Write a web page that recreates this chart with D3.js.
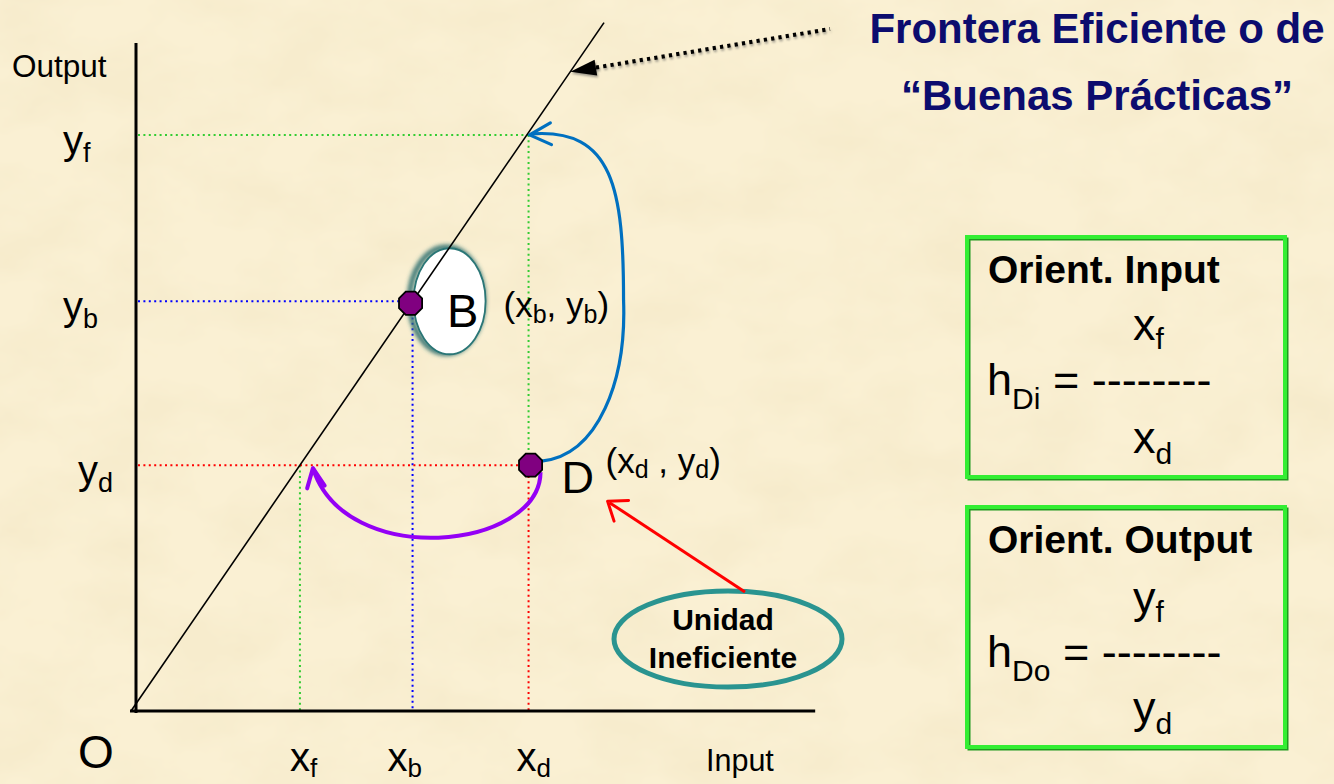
<!DOCTYPE html>
<html><head><meta charset="utf-8">
<script src="https://cdn.jsdelivr.net/npm/d3@7"></script>
<style>html,body{margin:0;padding:0;background:#f9f0d4;} svg{display:block;}</style>
</head><body><svg id="c" width="1334" height="784"></svg>
<script>
// ---------- data ----------
const frontierEnds = [0, 8.4];            // efficient frontier: output = input
const unitNames    = ["B", "D"];
const unitInput    = [5.0, 7.06];
const unitOutput   = [5.0, 3.0];
const xTickVals    = [3.0, 5.0, 7.06];    // x_f, x_b, x_d
const xTickSubs    = ["f", "b", "d"];
const yTickVals    = [7.03, 5.0, 3.0];    // y_f, y_b, y_d
const yTickSubs    = ["f", "b", "d"];
const axisMax      = [12.15, 8.15];
const titleLines   = ["Frontera Eficiente o de", "\u201CBuenas Pr\u00E1cticas\u201D"];
const boxTitles    = ["Orient. Input", "Orient. Output"];
const boxNum       = [["x","f"], ["y","f"]];
const boxLhs       = [["h","Di"], ["h","Do"]];
const boxDen       = [["x","d"], ["y","d"]];
const noteLines    = ["Unidad", "Ineficiente"];

// ---------- setup ----------
const FONT = "'Liberation Sans', Arial, Helvetica, sans-serif";
const svg = d3.select("#c");
const defs = svg.append("defs");

const paper = defs.append("filter").attr("id","paper").attr("x",0).attr("y",0).attr("width",1).attr("height",1);
paper.append("feTurbulence").attr("type","fractalNoise").attr("baseFrequency","0.012 0.018").attr("numOctaves",4).attr("seed",11);
paper.append("feColorMatrix").attr("type","matrix")
  .attr("values","0 0 0 0 0.80  0 0 0 0 0.68  0 0 0 0 0.42  0.38 0 0 0 -0.13");

const shB = defs.append("filter").attr("id","shB").attr("x","-30%").attr("y","-30%").attr("width","160%").attr("height","160%");
shB.append("feGaussianBlur").attr("stdDeviation",2);

const shA = defs.append("filter").attr("id","shA").attr("x","-10%").attr("y","-30%").attr("width","120%").attr("height","160%");
shA.append("feGaussianBlur").attr("stdDeviation",1.2);

svg.append("rect").attr("width",1334).attr("height",784).attr("fill","#faf0d3");
svg.append("rect").attr("width",1334).attr("height",784).attr("filter","url(#paper)");

const x = d3.scaleLinear().domain([0, 12.2]).range([131, 818]);
const y = d3.scaleLinear().domain([0, 8.2]).range([711, 39]);

const xf = xTickVals[0], xb = xTickVals[1], xd = xTickVals[2];
const yf = yTickVals[0], yb = yTickVals[1], yd = yTickVals[2];
const axisX = x(0) + 5;

// rich text helper: parts = [[text, isSub], ...]
function rich(parent, px, py, parts, size, subSize, subDy, opts = {}) {
  const t = parent.append("text").attr("x", px).attr("y", py)
    .attr("font-family", FONT).attr("font-size", size)
    .attr("fill", opts.fill || "#000").attr("font-weight", opts.weight || "normal")
    .attr("text-anchor", opts.anchor || "start");
  let inSub = false;
  parts.forEach(([s, sub]) => {
    const ts = t.append("tspan").text(s).attr("font-size", sub ? subSize : size);
    if (sub && !inSub) ts.attr("dy", subDy);
    if (!sub && inSub) ts.attr("dy", -subDy);
    inSub = !!sub;
  });
  return t;
}
function arrowHead(g, tip, backAngleDeg, len, spread, color, width) {
  const a = backAngleDeg * Math.PI / 180, s = spread * Math.PI / 180;
  const p1 = [tip[0] + len * Math.cos(a - s), tip[1] + len * Math.sin(a - s)];
  const p2 = [tip[0] + len * Math.cos(a + s), tip[1] + len * Math.sin(a + s)];
  g.append("path").attr("d", d3.line()([p1, tip, p2])).attr("fill","none")
    .attr("stroke", color).attr("stroke-width", width).attr("stroke-linecap","round").attr("stroke-linejoin","round");
}

const g = svg.append("g");

// ---------- guides (dotted) ----------
const guides = [
  {c:"#33cc33", p:[[null, yf],[xd, yf]]},
  {c:"#33cc33", p:[[xd, yf],[xd, yd]]},
  {c:"#33cc33", p:[[xf, yd],[xf, 0]]},
  {c:"#0000ff", p:[[null, yb],[xb, yb]]},
  {c:"#0000ff", p:[[xb, yb],[xb, 0]]},
  {c:"#ff0000", p:[[null, yd],[xd, yd]]},
  {c:"#ff0000", p:[[xd, yd],[xd, 0]]},
];
guides.forEach(d => {
  const pts = d.p.map(([a, b]) => [a === null ? axisX + 2 : x(a), y(b)]);
  g.append("path").attr("d", d3.line()(pts)).attr("stroke", d.c).attr("stroke-width", 2)
    .attr("stroke-dasharray", "2,3.4").attr("fill", "none");
});

// ---------- axes ----------
g.append("line").attr("x1", axisX).attr("x2", axisX).attr("y1", y(axisMax[1])).attr("y2", y(0) + 2)
  .attr("stroke", "#000").attr("stroke-width", 3);
g.append("line").attr("x1", x(0) - 1).attr("x2", x(axisMax[0])).attr("y1", y(0)).attr("y2", y(0))
  .attr("stroke", "#000").attr("stroke-width", 3);

// ---------- B highlight ellipse ----------
const bx = x(unitInput[0]), by = y(unitOutput[0]);
g.append("ellipse").attr("cx", bx + 36).attr("cy", by).attr("rx", 37).attr("ry", 53)
  .attr("fill", "none").attr("stroke", "#2d6f6f").attr("stroke-width", 5).attr("filter", "url(#shB)")
  .attr("transform", "translate(-2,-1)");
g.append("ellipse").attr("cx", bx + 37).attr("cy", by).attr("rx", 36).attr("ry", 53)
  .attr("fill", "#ffffff").attr("stroke", "#2a7676").attr("stroke-width", 1.8);

// ---------- frontier ----------
g.append("line").attr("x1", x(frontierEnds[0])).attr("y1", y(frontierEnds[0]))
  .attr("x2", x(frontierEnds[1])).attr("y2", y(frontierEnds[1]))
  .attr("stroke", "#000").attr("stroke-width", 1.6);

// ---------- arcs ----------
const dx = x(xd), dy = y(yd);
const blueTip = [x(xd) + 1, y(yf)];
const bluePath = d3.path();
bluePath.moveTo(dx + 13, dy - 4);
bluePath.bezierCurveTo(dx + 70, dy - 10, dx + 98, dy - 85, dx + 95, dy - 165);
bluePath.bezierCurveTo(dx + 95, blueTip[1] + 55, dx + 85, blueTip[1] - 7, blueTip[0] + 2, blueTip[1] - 1);
g.append("path").attr("d", bluePath.toString()).attr("fill","none").attr("stroke","#0070c0").attr("stroke-width",3.2);
arrowHead(g, blueTip, -3, 24, 27, "#0070c0", 3.2);

const purpTip = [x(xf) + 13, y(yd) + 3];
const purpPath = d3.path();
purpPath.moveTo(dx + 12, dy + 7);
purpPath.bezierCurveTo(dx + 11, dy + 85, purpTip[0] + 32, dy + 105, purpTip[0], purpTip[1]);
g.append("path").attr("d", purpPath.toString()).attr("fill","none").attr("stroke","#9400f5").attr("stroke-width",4);
arrowHead(g, purpTip, 81, 21, 25, "#9400f5", 4);

// ---------- unit markers (octagons) ----------
function octagon(cx, cy, r) {
  const pts = d3.range(8).map(i => {
    const a = (22.5 + 45 * i) * Math.PI / 180;
    return [cx + r * Math.cos(a), cy + r * Math.sin(a)];
  });
  return d3.line()(pts) + "Z";
}
unitNames.forEach((n, i) => {
  const cx = x(unitInput[i]) - (i === 0 ? 2 : -2), cy = y(unitOutput[i]) + (i === 0 ? 2 : 0);
  g.append("path").attr("d", octagon(cx, cy, 12.5)).attr("fill", "#800080")
    .attr("stroke", "#000").attr("stroke-width", 1.8);
});

// ---------- point labels ----------
g.append("text").attr("x", bx + 50).attr("y", by + 26).attr("text-anchor","middle")
  .attr("font-family", FONT).attr("font-size", 47).text(unitNames[0]);
rich(g, bx + 91, by + 16, [["(x",0],["b",1],[", y",0],["b",1],[")",0]], 35, 25, 6);
g.append("text").attr("x", dx + 33).attr("y", dy + 28)
  .attr("font-family", FONT).attr("font-size", 45).text(unitNames[1]);
rich(g, dx + 77, dy + 8, [["(x",0],["d",1],[" , y",0],["d",1],[")",0]], 35, 25, 5);

// ---------- axis labels ----------
g.append("text").attr("x", 12).attr("y", 77).attr("font-family", FONT).attr("font-size", 31.5).text("Output");
g.append("text").attr("x", 706).attr("y", 771).attr("font-family", FONT).attr("font-size", 30.5).text("Input");
g.append("text").attr("x", 78).attr("y", 768).attr("font-family", FONT).attr("font-size", 46).text("O");

const yLabelX = [63, 63, 78];
yTickVals.forEach((v, i) => {
  rich(g, yLabelX[i], y(v) + 19, [["y",0],[yTickSubs[i],1]], 40, 27, 8);
});
const xLabelOff = [-10, -25, -12];
xTickVals.forEach((v, i) => {
  rich(g, x(v) + xLabelOff[i], 771, [["x",0],[xTickSubs[i],1]], 40, 26, 6);
});

// ---------- title & dotted arrow ----------
titleLines.forEach((s, i) => {
  g.append("text").attr("x", 1097).attr("y", 43 + i * 67).attr("text-anchor","middle")
    .attr("font-family", FONT).attr("font-size", 42).attr("font-weight","bold").attr("fill","#0c0c6e").text(s);
});
const fTip = [x(7.8), y(7.8)];
const fTail = [830, 29];
const ang = Math.atan2(fTail[1] - fTip[1], fTail[0] - fTip[0]);
const base = [fTip[0] + 26 * Math.cos(ang), fTip[1] + 26 * Math.sin(ang)];
const sh = g.append("g").attr("filter","url(#shA)").attr("transform","translate(1,2)").attr("opacity",0.55);
[sh, g].forEach((grp, k) => {
  const col = k === 0 ? "#555" : "#000";
  grp.append("line").attr("x1", base[0]).attr("y1", base[1]).attr("x2", fTail[0]).attr("y2", fTail[1])
    .attr("stroke", col).attr("stroke-width", 4).attr("stroke-dasharray","3.2,4.2");
  const nx = -Math.sin(ang), ny = Math.cos(ang);
  grp.append("path").attr("d", d3.line()([fTip, [base[0] + 8 * nx, base[1] + 8 * ny], [base[0] - 8 * nx, base[1] - 8 * ny]]) + "Z")
    .attr("fill", col);
});

// ---------- formula boxes ----------
const boxTop = [237, 507];
boxTop.forEach((top, i) => {
  const h = 240;
  g.append("rect").attr("x", 969).attr("y", top + 2).attr("width", 318).attr("height", h)
    .attr("fill","none").attr("stroke","#1f9a1f").attr("stroke-width",3);
  g.append("rect").attr("x", 967).attr("y", top).attr("width", 318).attr("height", h)
    .attr("fill","none").attr("stroke","#33ee33").attr("stroke-width",4);
  g.append("text").attr("x", 988).attr("y", top + 46).attr("font-family", FONT)
    .attr("font-size", 39).attr("font-weight","bold").text(boxTitles[i]);
  rich(g, 1133, top + 103 + (i ? 3 : 0), [[boxNum[i][0],0],[boxNum[i][1],1]], 45, 30, 9);
  rich(g, 987, top + 158 + (i ? 2 : 0), [[boxLhs[i][0],0],[boxLhs[i][1],1],[" = --------",0]], 45, 30, 14);
  rich(g, 1133, top + 216, [[boxDen[i][0],0],[boxDen[i][1],1]], 45, 30, 11);
});

// ---------- "Unidad Ineficiente" callout ----------
const note = {cx: 728, cy: 639};
g.append("ellipse").attr("cx", note.cx).attr("cy", note.cy).attr("rx", 114).attr("ry", 48)
  .attr("fill","none").attr("stroke","#2a9490").attr("stroke-width",5);
noteLines.forEach((s, i) => {
  g.append("text").attr("x", note.cx - 5).attr("y", 630 + i * 38).attr("text-anchor","middle")
    .attr("font-family", FONT).attr("font-size", 30).attr("font-weight","bold").text(s);
});
const redTip = [dx + 79, dy + 36];
const redTail = [note.cx + 17, note.cy - 47];
g.append("line").attr("x1", redTail[0]).attr("y1", redTail[1]).attr("x2", redTip[0] + 2).attr("y2", redTip[1] + 1.5)
  .attr("stroke","#ff0000").attr("stroke-width",3);
arrowHead(g, redTip, 35, 21, 37, "#ff0000", 3);
</script></body></html>
